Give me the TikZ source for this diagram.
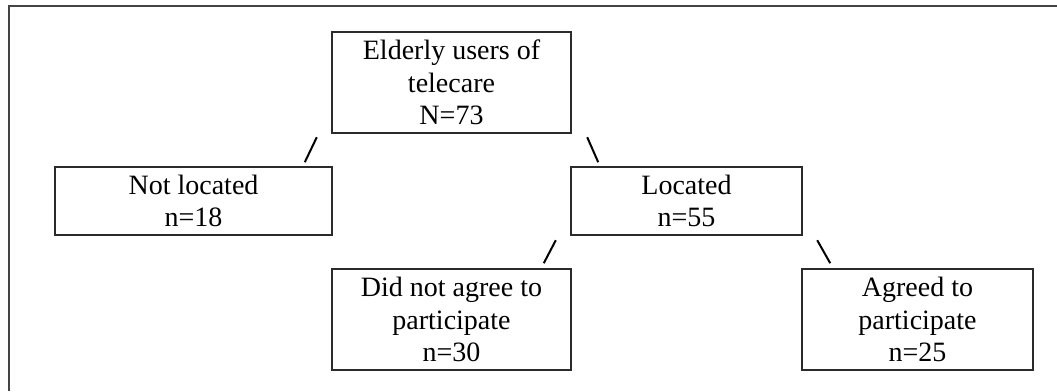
\documentclass[tikz,border=0pt]{standalone}
\usepackage{fontspec}
\setmainfont{Liberation Serif}
\usetikzlibrary{calc}
\definecolor{edge}{HTML}{2B2B2B}
\definecolor{framec}{HTML}{444444}
\tikzset{
  box/.style={draw=edge, line width=1.6pt, rectangle, inner sep=0pt,
    align=center, font=\fontsize{28}{32.5}\selectfont},
  tick/.style={draw=black, line width=2pt},
}
\begin{document}
\begin{tikzpicture}[x=1pt, y=-1pt]
  \useasboundingbox (0,0) rectangle (1057,391);
  % page frame: only top and left edges
  \draw[framec, line width=2pt] (9,391) -- (9,5.5) -- (1057,5.5);

  \node[box, minimum width=239pt, minimum height=101pt] (users) at (451.5,82.5)
    {Elderly users of\\telecare\\N=73};
  \node[box, minimum width=277pt, minimum height=68pt] (notloc) at (193.5,201)
    {Not located\\n=18};
  \node[box, minimum width=231pt, minimum height=68pt] (loc) at (686.5,201)
    {Located\\n=55};
  \node[box, minimum width=239pt, minimum height=101pt] (noagree) at (451.5,319.5)
    {Did not agree to\\participate\\n=30};
  \node[box, minimum width=231pt, minimum height=101pt] (agree) at (917.5,319.5)
    {Agreed to\\participate\\n=25};

  % branch marks between levels
  \coordinate (t1a) at ($(notloc.north east)+(-16,-29)$);
  \coordinate (t1b) at ($(notloc.north east)+(-28,-4)$);
  \coordinate (t2a) at ($(loc.north west)+(17,-29)$);
  \coordinate (t2b) at ($(loc.north west)+(28,-4)$);
  \coordinate (t3a) at ($(noagree.north east)+(-16,-28)$);
  \coordinate (t3b) at ($(noagree.north east)+(-28,-5)$);
  \coordinate (t4a) at ($(agree.north west)+(16,-28)$);
  \coordinate (t4b) at ($(agree.north west)+(29,-5)$);
  \draw[tick] (t1a) -- (t1b);
  \draw[tick] (t2a) -- (t2b);
  \draw[tick] (t3a) -- (t3b);
  \draw[tick] (t4a) -- (t4b);
\end{tikzpicture}
\end{document}
